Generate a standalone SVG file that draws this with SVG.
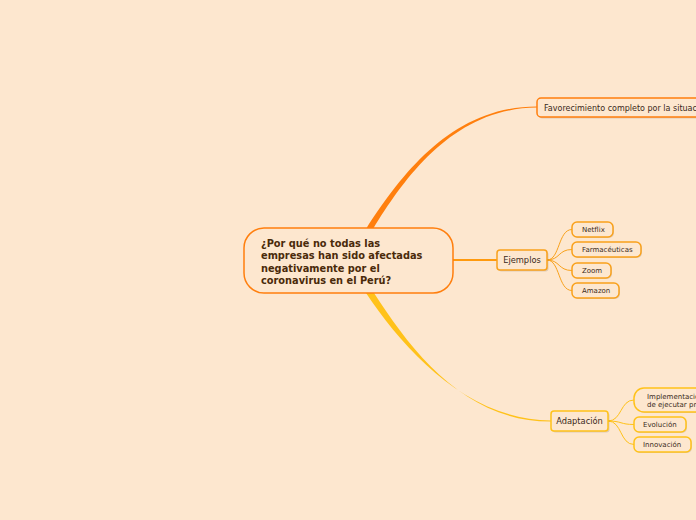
<svg xmlns="http://www.w3.org/2000/svg" width="696" height="520" viewBox="0 0 696 520">
<style>
.bg{fill:#fde7cf}
.sh{fill:#000;opacity:0.12}
.n1{fill:#fde7cf;stroke:#ff7f0e;stroke-width:1.5}
.n2{fill:#fde7cf;stroke:#f9a11b;stroke-width:1.5}
.n3{fill:#fde7cf;stroke:#ffc21a;stroke-width:1.5}
.t{font-family:"DejaVu Sans",Verdana,sans-serif;fill:#3a2a1a}
.tc{font-family:"DejaVu Sans",Verdana,sans-serif;font-weight:bold;font-size:9.8px;fill:#4a2a0a}
.l2{fill:none;stroke:#f9a11b;stroke-width:1}
.l3{fill:none;stroke:#ffc21a;stroke-width:1}
</style>
<rect class="bg" x="0" y="0" width="696" height="520"/>
<g id="connectors">
  <path d="M366,229 C402,173 453,106.4 537,106.4 L537,107.6 C455,108 406,175 373,229 Z" fill="#ff7f0e"/>
  <path d="M366,293 C404,350 468,420.4 551,420.4 L551,421.6 C466,422 412,352 374,293 Z" fill="#ffc21a"/>
  <path d="M453,260 L497,260" fill="none" stroke="#ff9a0e" stroke-width="2"/>
  <path class="l2" d="M547,260 C560,260 558,229.5 572,229.5"/>
  <path class="l2" d="M547,260 C560,260 558,249.5 572,249.5"/>
  <path class="l2" d="M547,260 C560,260 558,270.5 572,270.5"/>
  <path class="l2" d="M547,260 C560,260 558,290.5 572,290.5"/>
  <path class="l3" d="M608,421 C622,421 620,400 634,400"/>
  <path class="l3" d="M608,421 C622,421 620,424.5 634,424.5"/>
  <path class="l3" d="M608,421 C622,421 620,444.5 634,444.5"/>
</g>
<g id="central">
  <rect class="n1" x="244" y="228" width="209" height="65" rx="20" stroke-width="2"/>
  <text class="tc" x="261" y="246.5">¿Por qué no todas las</text>
  <text class="tc" x="261" y="259">empresas han sido afectadas</text>
  <text class="tc" x="261" y="271.5">negativamente por el</text>
  <text class="tc" x="261" y="284">coronavirus en el Perú?</text>
</g>
<g id="favorecimiento">
  <rect class="sh" x="538.5" y="99.5" width="170" height="19" rx="4"/>
  <rect class="n1" x="537" y="98" width="170" height="19" rx="4"/>
  <text class="t" x="544" y="110.5" font-size="8">Favorecimiento completo por la situación</text>
</g>
<g id="ejemplos">
  <rect class="sh" x="498.5" y="251.5" width="50" height="20" rx="3"/>
  <rect class="n2" x="497" y="250" width="50" height="20" rx="3"/>
  <text class="t" x="522" y="263" font-size="8.3" text-anchor="middle">Ejemplos</text>
</g>
<g id="netflix">
  <rect class="sh" x="573" y="223" width="41" height="15" rx="5"/>
  <rect class="n2" x="572" y="222" width="41" height="15" rx="5" stroke-width="1.2"/>
  <text class="t" x="582" y="232.3" font-size="7">Netflix</text>
</g>
<g id="farmaceuticas">
  <rect class="sh" x="573" y="243" width="69" height="15" rx="5"/>
  <rect class="n2" x="572" y="242" width="69" height="15" rx="5" stroke-width="1.2"/>
  <text class="t" x="582" y="252.3" font-size="7">Farmacéuticas</text>
</g>
<g id="zoom">
  <rect class="sh" x="573" y="264" width="39" height="15" rx="5"/>
  <rect class="n2" x="572" y="263" width="39" height="15" rx="5" stroke-width="1.2"/>
  <text class="t" x="582" y="273.3" font-size="7">Zoom</text>
</g>
<g id="amazon">
  <rect class="sh" x="573" y="284" width="47" height="15" rx="5"/>
  <rect class="n2" x="572" y="283" width="47" height="15" rx="5" stroke-width="1.2"/>
  <text class="t" x="582" y="293.3" font-size="7">Amazon</text>
</g>
<g id="adaptacion">
  <rect class="sh" x="552.5" y="412.5" width="57" height="20" rx="3"/>
  <rect class="n3" x="551" y="411" width="57" height="20" rx="3"/>
  <text class="t" x="579.5" y="424" font-size="8.3" text-anchor="middle">Adaptación</text>
</g>
<g id="implementacion">
  <rect class="sh" x="635" y="389" width="80" height="24" rx="10"/>
  <rect class="n3" x="634" y="388" width="80" height="24" rx="10" stroke-width="1.2"/>
  <text class="t" x="647" y="398.5" font-size="7">Implementación</text>
  <text class="t" x="647" y="407" font-size="7">de ejecutar procesos</text>
</g>
<g id="evolucion">
  <rect class="sh" x="635" y="418" width="52" height="15" rx="5"/>
  <rect class="n3" x="634" y="417" width="52" height="15" rx="5" stroke-width="1.2"/>
  <text class="t" x="643" y="427.3" font-size="7">Evolución</text>
</g>
<g id="innovacion">
  <rect class="sh" x="635" y="438" width="57" height="15" rx="5"/>
  <rect class="n3" x="634" y="437" width="57" height="15" rx="5" stroke-width="1.2"/>
  <text class="t" x="643" y="447.3" font-size="7">Innovación</text>
</g>
</svg>
